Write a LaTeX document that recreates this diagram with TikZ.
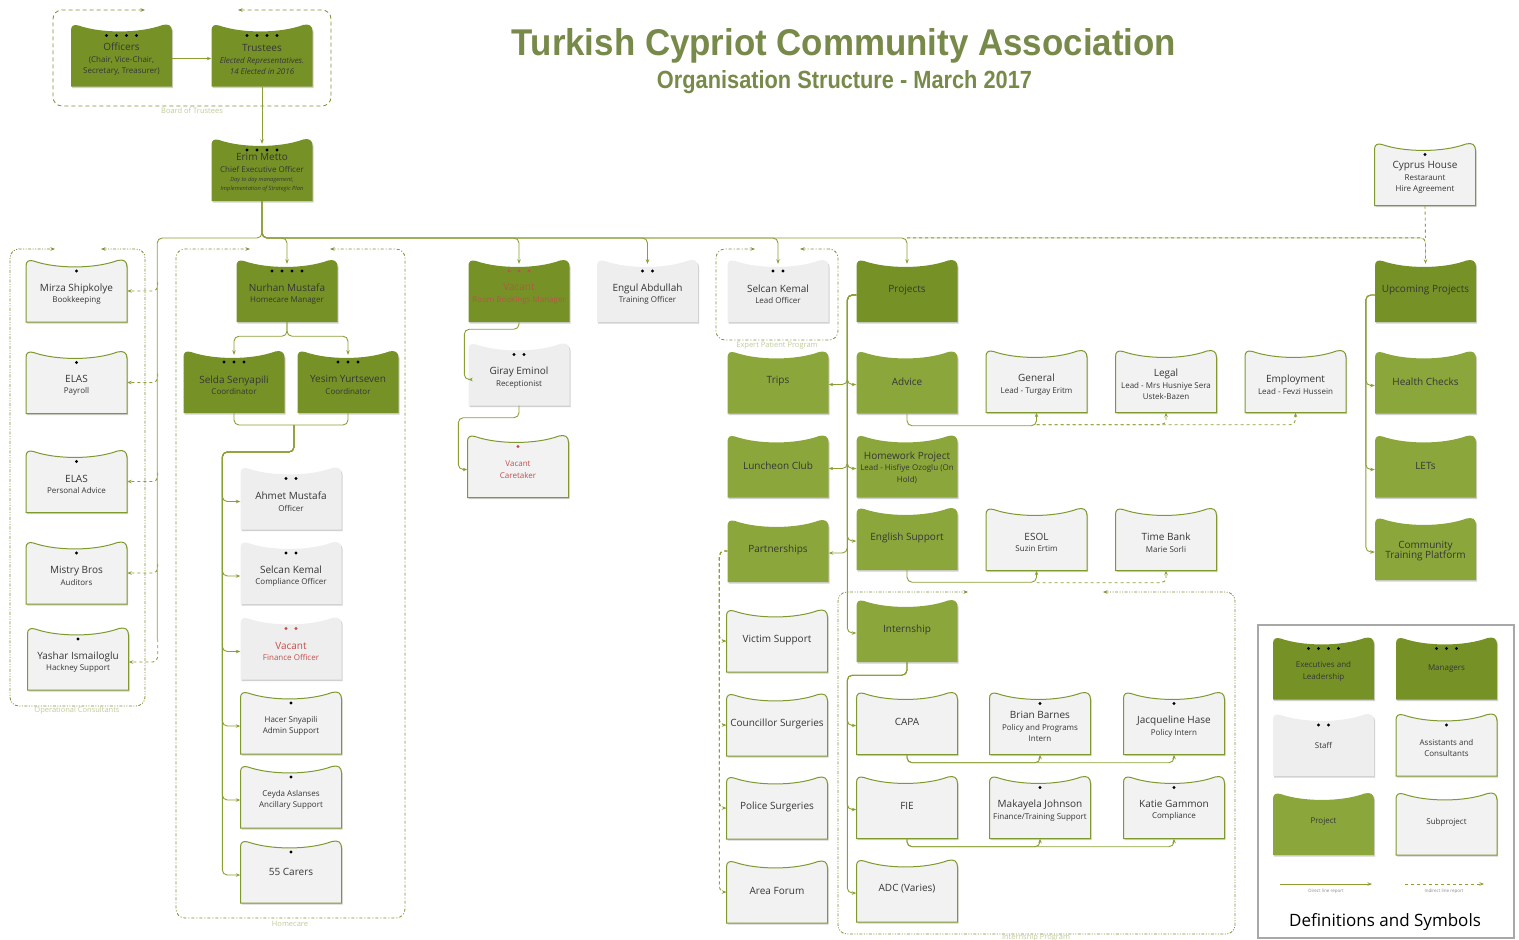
\documentclass[tikz,border=0pt]{standalone}
\usepackage{fontspec}
\usepackage{graphicx}
\setmainfont{Open Sans}
\newfontfamily\titlef{Liberation Sans}
\usetikzlibrary{arrows.meta,shadows,calc}
\definecolor{gexec}{HTML}{769226}
\definecolor{gproj}{HTML}{8BA73B}
\definecolor{staffg}{HTML}{EEEEEE}
\definecolor{asstg}{HTML}{F2F2F2}
\definecolor{bord}{HTML}{7E9A2E}
\definecolor{lnc}{HTML}{8AA035}
\definecolor{grpc}{HTML}{7D9133}
\definecolor{grplab}{HTML}{BFCC9A}
\definecolor{ttl}{HTML}{788A4A}
\definecolor{txt}{HTML}{363636}
\definecolor{vac}{HTML}{C0504D}
\definecolor{legb}{HTML}{A8A8A8}
\tikzset{
  shad/.style={drop shadow={shadow xshift=1.2pt,shadow yshift=-1.6pt,opacity=0.3,fill=black!60}},
  exec/.style={fill=gexec,shad},
  proj/.style={fill=gproj,shad},
  staff/.style={fill=staffg,shad},
  asst/.style={fill=asstg,draw=bord,line width=1pt,shad},
  cardnode/.style={minimum width=101pt,minimum height=62pt,inner sep=0pt},
  cardtext/.style={align=center,inner sep=0pt,font=\fontsize{8}{11.5}\selectfont,text=txt},
  conn/.style={draw=lnc,line width=0.9pt,rounded corners=5pt},
  grpline/.style={draw=grpc,line width=0.8pt,rounded corners=9pt},
  grplabel/.style={text=grplab,font=\fontsize{7.5}{9}\selectfont,inner sep=0pt},
  dashd/.style={dash pattern=on 4pt off 3pt},
  dashdot/.style={dash pattern=on 3pt off 2pt on 1pt off 2pt},
  dashdotdot/.style={dash pattern=on 3pt off 1.5pt on 1pt off 1.5pt on 1pt off 1.5pt},
}
\newcommand\nmf[1]{{\fontsize{10}{12}\selectfont #1}}
\newcommand\tinyi[1]{{\fontsize{5.7}{8}\selectfont\itshape #1}}
\newcommand\card[6][3]{%
  \path[#5] (#3-50.5,#4+31) -- (#3-50.5,#4-25) .. controls (#3-50.5,#4-29.5) and (#3-48,#4-31.5) .. (#3-43,#4-30) .. controls (#3-20,#4-22) and (#3+18,#4-22) .. (#3+41,#4-30.5) .. controls (#3+47,#4-32) and (#3+50.5,#4-30) .. (#3+50.5,#4-24) -- (#3+50.5,#4+31) -- cycle;
  \node[cardnode] (#2) at (#3,#4) {};
  \node[cardtext] (#2-t) at (#3,#4+#1) {#6};
}
\newcommand\dts[4]{\foreach \i in {1,...,#3}{\fill[#4] ({#1+10*(\i-(#3+1)/2)},{#2-20}) circle (1.6);}}
\newcommand\grp[7]{\draw[grpline,#7,<->] (#6,#2) -- (#3,#2) -- (#3,#4) -- (#1,#4) -- (#1,#2) -- (#5,#2);}
\begin{document}
\begin{tikzpicture}[x=1pt,y=-1pt,>={Stealth[length=4.5pt,width=3.5pt]}]
\useasboundingbox (0,0) rectangle (1519,940);
\fill[white] (0,0) rectangle (1519,940);
% title
\node[anchor=base,text=ttl,inner sep=0pt] (title) at (844,55.5) {\resizebox{664pt}{27pt}{\titlef\bfseries Turkish Cypriot Community Association}};
\node[anchor=base,text=ttl,inner sep=0pt] (subtitle) at (844.5,88) {\resizebox{375pt}{18pt}{\titlef\bfseries Organisation Structure - March 2017}};
% groups
\grp{53}{10}{331}{106}{145}{238}{dashd}
\node[grplabel] (lbBoard) at (192,111) {Board of Trustees};
\grp{10}{249}{145}{706}{55}{101}{dashdotdot}
\node[grplabel] (lbOps) at (77,711) {Operational Consultants};
\grp{176}{249}{405}{918}{250}{330}{dashdot}
\node[grplabel] (lbHome) at (290,924) {Homecare};
\grp{716}{249}{838}{340}{755}{800}{dashdot}
\node[grplabel] (lbExp) at (777,346) {Expert Patient Program};
\grp{838}{592}{1235}{934}{968}{1103}{dashdotdot}
\node[grplabel] (lbInt) at (1036,938) {Internship Program};
% board
\card[4]{officers}{121.5}{55.5}{exec}{\nmf{Officers}\\(Chair, Vice-Chair,\\Secretary, Treasurer)}
\dts{121.5}{55.5}{4}{black}
\card[4]{trustees}{262}{55.5}{exec}{\nmf{Trustees}\\\textit{Elected Representatives.}\\\textit{14 Elected in 2016}}
\dts{262}{55.5}{4}{black}
\card{ceo}{262}{170}{exec}{\nmf{Erim Metto}\\Chief Executive Officer\\[-2.5pt]\tinyi{Day to day management,}\\[-2pt]\tinyi{Implementation of Strategic Plan}}
\dts{262}{170}{4}{black}
% consultants
\card{mirza}{76.5}{291}{asst}{\nmf{Mirza Shipkolye}\\Bookkeeping}
\dts{76.5}{291}{1}{black}
\card{elasA}{76.5}{382.5}{asst}{\nmf{ELAS}\\Payroll}
\dts{76.5}{382.5}{1}{black}
\card{elasB}{76.5}{481.5}{asst}{\nmf{ELAS}\\Personal Advice}
\dts{76.5}{481.5}{1}{black}
\card{mistry}{76.5}{573}{asst}{\nmf{Mistry Bros}\\Auditors}
\dts{76.5}{573}{1}{black}
\card{yashar}{78}{659}{asst}{\nmf{Yashar Ismailoglu}\\Hackney Support}
\dts{78}{659}{1}{black}
% homecare
\card{nurhan}{287}{291}{exec}{\nmf{Nurhan Mustafa}\\Homecare Manager}
\dts{287}{291}{4}{black}
\card{selda}{234}{382}{exec}{\nmf{Selda Senyapili}\\Coordinator}
\dts{234}{382}{3}{black}
\card{yesim}{348}{382}{exec}{\nmf{Yesim Yurtseven}\\Coordinator}
\dts{348}{382}{3}{black}
\card{ahmet}{291}{498.5}{staff}{\nmf{Ahmet Mustafa}\\Officer}
\dts{291}{498.5}{2}{black}
\card{selcanC}{291}{573}{staff}{\nmf{Selcan Kemal}\\Compliance Officer}
\dts{291}{573}{2}{black}
\card{vacfin}{291}{648.5}{staff}{\textcolor{vac}{\nmf{Vacant}}\\\textcolor{vac}{Finance Officer}}
\dts{291}{648.5}{2}{vac}
\card{hacer}{291}{723}{asst}{Hacer Snyapili\\Admin Support}
\dts{291}{723}{1}{black}
\card{ceyda}{291}{797}{asst}{Ceyda Aslanses\\Ancillary Support}
\dts{291}{797}{1}{black}
\card[0]{carers}{291}{872}{asst}{\nmf{55 Carers}}
\dts{291}{872}{1}{black}
% middle
\card{roomb}{519}{291}{exec}{\textcolor{vac}{\nmf{Vacant}}\\\textcolor{vac}{Room Bookings Manager}}
\dts{519}{291}{3}{vac}
\card{giray}{519}{374.5}{staff}{\nmf{Giray Eminol}\\Receptionist}
\dts{519}{374.5}{2}{black}
\card{caretaker}{518}{466.5}{asst}{\textcolor{vac}{Vacant}\\\textcolor{vac}{Caretaker}}
\dts{518}{466.5}{1}{vac}
\card{engul}{647.5}{291}{staff}{\nmf{Engul Abdullah}\\Training Officer}
\dts{647.5}{291}{2}{black}
\card{selcanL}{778}{291}{staff}{\nmf{Selcan Kemal}\\Lead Officer}
\dts{778}{291}{2}{black}
% projects
\card[-1]{projects}{907}{291}{exec}{\nmf{Projects}}
\card[-1]{trips}{778}{382.5}{proj}{\nmf{Trips}}
\card[-1]{lunch}{778}{466.5}{proj}{\nmf{Luncheon Club}}
\card[-1]{partner}{778}{551}{proj}{\nmf{Partnerships}}
\card[-1]{victim}{777}{641}{asst}{\nmf{Victim Support}}
\card[-1]{council}{777}{725}{asst}{\nmf{Councillor Surgeries}}
\card[-1]{police}{777}{808}{asst}{\nmf{Police Surgeries}}
\card[-1]{area}{777}{892}{asst}{\nmf{Area Forum}}
\card[-1]{advice}{907}{382.5}{proj}{\nmf{Advice}}
\card[1]{homework}{907}{466.5}{proj}{\nmf{Homework Project}\\Lead - Hisfiye Ozoglu (On\\Hold)}
\card[-1]{english}{907}{539}{proj}{\nmf{English Support}}
\card[-1]{intern}{907}{631}{proj}{\nmf{Internship}}
\card{general}{1036.5}{381.5}{asst}{\nmf{General}\\Lead - Turgay Eritm}
\card{legal}{1166}{381.5}{asst}{\nmf{Legal}\\Lead - Mrs Husniye Sera\\Ustek-Bazen}
\card{employ}{1295.5}{381.5}{asst}{\nmf{Employment}\\Lead - Fevzi Hussein}
\card{esol}{1036.5}{539.5}{asst}{\nmf{ESOL}\\Suzin Ertim}
\card{timebank}{1166}{539.5}{asst}{\nmf{Time Bank}\\Marie Sorli}
\card[-2]{capa}{907}{723.5}{asst}{\nmf{CAPA}}
\card{brian}{1040}{723.5}{asst}{\nmf{Brian Barnes}\\Policy and Programs\\Intern}
\dts{1040}{723.5}{1}{black}
\card{jacq}{1174}{723.5}{asst}{\nmf{Jacqueline Hase}\\Policy Intern}
\dts{1174}{723.5}{1}{black}
\card[-2]{fie}{907}{807.5}{asst}{\nmf{FIE}}
\card{makayela}{1040}{807.5}{asst}{\nmf{Makayela Johnson}\\Finance/Training Support}
\dts{1040}{807.5}{1}{black}
\card{katie}{1174}{807.5}{asst}{\nmf{Katie Gammon}\\Compliance}
\dts{1174}{807.5}{1}{black}
\card[-2]{adc}{907}{891}{asst}{\nmf{ADC (Varies)}}
% right
\card{cyprus}{1425}{174.5}{asst}{\nmf{Cyprus House}\\Restaraunt\\Hire Agreement}
\dts{1425}{174.5}{1}{black}
\card[-1]{upcoming}{1425.5}{291}{exec}{\nmf{Upcoming Projects}}
\card[-1]{health}{1425.5}{382.5}{proj}{\nmf{Health Checks}}
\card[-1]{lets}{1425.5}{466.5}{proj}{\nmf{LETs}}
\card[2]{ctp}{1425.5}{549}{proj}{\nmf{Community}\\[-1pt]\nmf{Training Platform}}
% connectors: board
\draw[conn,->] ($(officers.east)+(0,3)$) -- ($(trustees.west)+(0,3)$);
\draw[conn,->] (trustees.south) -- ($(ceo.north)+(0,5)$);
\coordinate (bus) at (262,238);
\draw[conn] (ceo.south) -- (bus) -| ($(yashar.east)+(28.5,-20)$);
\foreach \n/\dx in {mirza/30.5,elasA/30.5,elasB/30.5,mistry/30.5}{
  \draw[conn,dashed,->] ($(\n.east)+(\dx,-9)$) |- (\n.east);}
\draw[conn,dashed,->] ($(yashar.east)+(29,-20)$) |- ($(yashar.east)+(0,3)$);
\foreach \n in {nurhan,roomb,engul,selcanL,projects}{
  \draw[conn,->] (ceo.south) -- (bus) -| ($(\n.north)+(0,4)$);}
\draw[draw=lnc!35,line width=0.9pt,rounded corners=5pt] ($(projects.north)+(0,-22)$) -| ($(upcoming.north)+(0,-2)$);
\draw[conn,dashed,->] ($(projects.north)+(0,-22)$) -| ($(upcoming.north)+(0,4)$);
\draw[conn,dashed] (cyprus.south) -- ($(upcoming.north)+(0,-22)$);
% homecare
\foreach \n in {selda,yesim}{\draw[conn,->] (nurhan.south) -- ++(0,14) -| ($(\n.north)+(0,4)$);}
\coordinate (hcj) at (294,425);
\draw[conn] (selda.south) |- (hcj);
\draw[conn] (yesim.south) |- (hcj);
\foreach \n in {ahmet,selcanC,vacfin,hacer,ceyda,carers}{
  \draw[conn,->] (hcj) -- ++(0,27) -| ($(\n.west)+(-18,-12)$) |- ($(\n.west)+(0,3)$);}
% room bookings
\draw[conn,->] (roomb.south) -- ++(0,7) -| ($(giray.west)+(-4,-20)$) |- ($(giray.west)+(0,5)$);
\draw[conn,->] (giray.south) -- ++(0,12) -| ($(caretaker.west)+(-9,-20)$) |- ($(caretaker.west)+(0,3)$);
% projects
\foreach \n in {trips,lunch,partner}{
  \draw[conn,->] ($(projects.west)+(0,4)$) -| ($(projects.west)+(-9,30)$) |- ($(\n.east)+(0,2)$);}
\foreach \n in {advice,homework,english,intern}{
  \draw[conn,->] ($(projects.west)+(0,4)$) -| ($(projects.west)+(-9,30)$) |- ($(\n.west)+(0,2)$);}
\draw[conn,->] (advice.south) -- ++(0,12) -| (general.south);
\draw[conn,dashed,->] ($(general.south)+(0,12)$) -| (legal.south);
\draw[conn,dashed,->] ($(general.south)+(0,12)$) -| (employ.south);
\draw[conn,->] (english.south) -- ++(0,12) -| (esol.south);
\draw[conn,dashed,->] ($(esol.south)+(0,12)$) -| (timebank.south);
\foreach \n in {victim,council,police,area}{
  \draw[conn,dashed,->] (partner.west) -| ($(partner.west)+(-8,30)$) |- (\n.west);}
\foreach \n in {capa,fie,adc}{
  \draw[conn,->] (intern.south) -- ++(0,13) -| ($(capa.west)+(-9,-20)$) |- ($(\n.west)+(0,2)$);}
\foreach \n in {brian,jacq}{\draw[conn,->] (capa.south) -- ++(0,8) -| (\n.south);}
\foreach \n in {makayela,katie}{\draw[conn,->] (fie.south) -- ++(0,8) -| (\n.south);}
\foreach \n in {health,lets,ctp}{
  \draw[conn,->] ($(upcoming.west)+(0,4)$) -| ($(upcoming.west)+(-9,30)$) |- ($(\n.west)+(0,3)$);}
% legend
\draw[draw=legb,line width=1.6pt,fill=white] (1258,625) rectangle (1514,938);
\card{lgexec}{1323.5}{668.5}{exec}{Executives and\\Leadership}
\dts{1323.5}{668.5}{4}{black}
\card[0]{lgmgr}{1446.5}{668.5}{exec}{Managers}
\dts{1446.5}{668.5}{3}{black}
\card[0]{lgstaff}{1323.5}{745}{staff}{Staff}
\dts{1323.5}{745}{2}{black}
\card{lgasst}{1446.5}{745}{asst}{Assistants and\\Consultants}
\dts{1446.5}{745}{1}{black}
\card[-2]{lgproj}{1323.5}{824}{proj}{Project}
\card[-2]{lgsub}{1446.5}{824}{asst}{Subproject}
\coordinate (lsa) at (1280,884);
\coordinate (lsb) at (1372,884);
\coordinate (lda) at (1405,884);
\coordinate (ldb) at (1484,884);
\draw[conn,->] (lsa) -- (lsb);
\draw[conn,dashed,->] (lda) -- (ldb);
\node[text=black!45,font=\fontsize{4.5}{5}\selectfont,inner sep=0pt] (lslab) at (1326,891) {Direct line report};
\node[text=black!45,font=\fontsize{4.5}{5}\selectfont,inner sep=0pt] (ldlab) at (1444,891) {Indirect line report};
\node[font=\fontsize{17}{20}\selectfont,text=black,inner sep=0pt] (legtitle) at (1385,922) {Definitions and Symbols};
\end{tikzpicture}
\end{document}
